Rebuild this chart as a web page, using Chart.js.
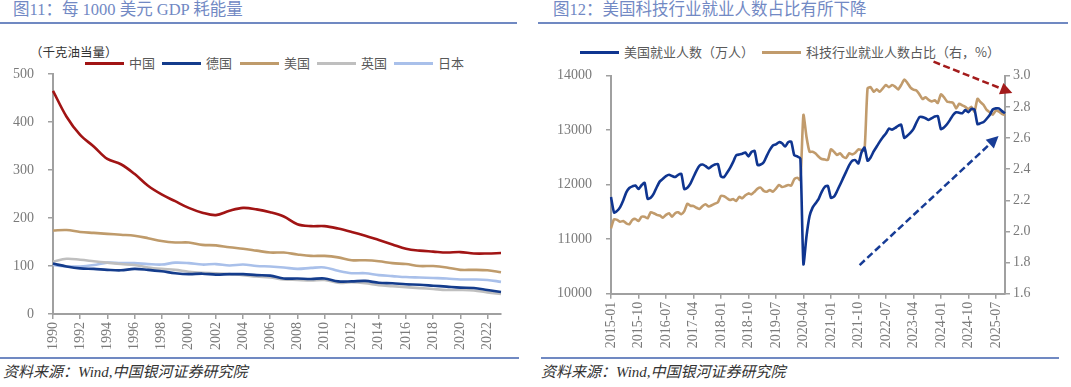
<!DOCTYPE html>
<html>
<head>
<meta charset="utf-8">
<script src="https://cdn.jsdelivr.net/npm/chart.js@4.4.1/dist/chart.umd.min.js"></script>
<style>
html,body{margin:0;padding:0;background:#fff;}
body{width:1071px;height:387px;position:relative;overflow:hidden;font-family:"Liberation Serif","Noto Sans CJK SC",serif;}
.title{position:absolute;top:0;font-size:16.5px;color:#7289c4;white-space:nowrap;line-height:19px;}
.rule{position:absolute;height:2px;background:#7089c2;}
.src{position:absolute;top:363px;font-size:15px;font-style:italic;color:#333;white-space:nowrap;line-height:18px;}
.unit{position:absolute;left:30px;top:44px;font-family:"Noto Sans CJK SC",sans-serif;font-size:12.5px;color:#333;white-space:nowrap;line-height:16px;}
.lgi{position:absolute;font-family:"Noto Sans CJK SC",sans-serif;font-size:13px;color:#595959;white-space:nowrap;line-height:16px;}
.lgi i{display:inline-block;width:39px;height:3px;vertical-align:middle;margin-right:5px;position:relative;top:-1px;}
canvas{position:absolute;}
</style>
</head>
<body>
<div class="title" style="left:13px;">图11：每 1000 美元 GDP 耗能量</div>
<div class="rule" style="left:0;top:22px;width:517px;"></div>
<div class="title" style="left:553px;">图12：美国科技行业就业人数占比有所下降</div>
<div class="rule" style="left:538px;top:22px;width:530px;"></div>
<div class="unit">（千克油当量）</div>
<div id="legL"></div>
<div id="legR"></div>
<canvas id="cL" width="520" height="325" style="left:0;top:30px;"></canvas>
<canvas id="cR" width="531" height="325" style="left:540px;top:30px;"></canvas>
<div class="rule" style="left:0;top:357px;width:519px;"></div>
<div class="rule" style="left:541px;top:357px;width:518px;"></div>
<div class="src" style="left:3px;">资料来源：Wind,中国银河证券研究院</div>
<div class="src" style="left:541px;">资料来源：Wind,中国银河证券研究院</div>
<script>
// ---------- Left chart data ----------
const years = ['1990','1991','1992','1993','1994','1995','1996','1997','1998','1999',
  '2000','2001','2002','2003','2004','2005','2006','2007','2008','2009',
  '2010','2011','2012','2013','2014','2015','2016','2017','2018','2019',
  '2020','2021','2022','2023'];
const leftNames = ['中国','德国','美国','英国','日本'];
const china   = [465,411,373,349,323,312,292,267,249,235,221,211,206,215,221,218,212,203,187,183,183,178,171,163,154,145,136,132,130,128,129,126,126,127];
const germany = [105,99,95,94,92,91,94,92,89,85,83,84,82,83,83,81,80,74,74,73,74,68,68,69,65,64,62,61,59,57,55,54,50,46];
const usa     = [174,175,171,169,167,165,163,158,152,149,149,144,143,139,136,132,128,128,124,121,121,118,112,112,110,106,104,100,100,97,92,92,91,87];
const uk      = [109,115,113,110,107,104,102,97,94,92,88,86,85,83,81,78,76,72,71,70,71,65,66,64,60,58,56,54,52,50,50,49,45,42];
const japan   = [102,99,99,102,107,106,106,104,103,107,106,103,104,101,103,100,99,97,94,96,97,90,85,85,81,79,77,76,75,74,72,72,71,67];
const leftTicksY = [0,100,200,300,400,500];

// ---------- Right chart data ----------
const months = [
 '2015-01','2015-02','2015-03','2015-04','2015-05','2015-06','2015-07','2015-08','2015-09','2015-10','2015-11','2015-12',
 '2016-01','2016-02','2016-03','2016-04','2016-05','2016-06','2016-07','2016-08','2016-09','2016-10','2016-11','2016-12',
 '2017-01','2017-02','2017-03','2017-04','2017-05','2017-06','2017-07','2017-08','2017-09','2017-10','2017-11','2017-12',
 '2018-01','2018-02','2018-03','2018-04','2018-05','2018-06','2018-07','2018-08','2018-09','2018-10','2018-11','2018-12',
 '2019-01','2019-02','2019-03','2019-04','2019-05','2019-06','2019-07','2019-08','2019-09','2019-10','2019-11','2019-12',
 '2020-01','2020-02','2020-03','2020-04','2020-05','2020-06','2020-07','2020-08','2020-09','2020-10','2020-11','2020-12',
 '2021-01','2021-02','2021-03','2021-04','2021-05','2021-06','2021-07','2021-08','2021-09','2021-10','2021-11','2021-12',
 '2022-01','2022-02','2022-03','2022-04','2022-05','2022-06','2022-07','2022-08','2022-09','2022-10','2022-11','2022-12',
 '2023-01','2023-02','2023-03','2023-04','2023-05','2023-06','2023-07','2023-08','2023-09','2023-10','2023-11','2023-12',
 '2024-01','2024-02','2024-03','2024-04','2024-05','2024-06','2024-07','2024-08','2024-09','2024-10','2024-11','2024-12',
 '2025-01','2025-02','2025-03','2025-04','2025-05','2025-06','2025-07','2025-08','2025-09','2025-10'];
const rightNames = ['美国就业人数（万人）','科技行业就业人数占比（右，%）'];
const employment = [
 11776,11490,11520,11590,11710,11860,11940,11970,11985,11920,11990,12035,
 11740,11760,11836,11958,12061,12109,12158,12182,12158,12140,12182,12200,
 11920,11945,12018,12140,12260,12350,12370,12340,12300,12340,12370,12380,
 12150,12140,12220,12310,12420,12540,12555,12570,12590,12520,12600,12620,
 12360,12370,12410,12530,12640,12720,12740,12780,12760,12700,12780,12790,
 12540,12520,12480,10540,11050,11420,11580,11660,11740,11870,11960,11980,
 11760,11780,11880,12000,12120,12240,12360,12440,12450,12390,12590,12680,
 12440,12500,12610,12700,12790,12870,12940,13030,13010,13040,13080,13100,
 12860,12900,12950,13020,13140,13240,13240,13220,13190,13220,13250,13260,
 13020,13050,13110,13190,13280,13330,13320,13310,13370,13330,13390,13380,
 13110,13130,13150,13210,13280,13380,13400,13400,13350,13310];
const techShare = [
 2.02,2.078,2.074,2.062,2.067,2.052,2.046,2.074,2.08,2.067,2.094,2.094,
 2.084,2.123,2.117,2.106,2.102,2.088,2.106,2.117,2.094,2.117,2.123,2.11,
 2.13,2.178,2.165,2.163,2.152,2.144,2.163,2.174,2.16,2.168,2.178,2.187,
 2.228,2.226,2.213,2.202,2.208,2.195,2.222,2.213,2.232,2.244,2.238,2.255,
 2.275,2.281,2.26,2.255,2.266,2.255,2.275,2.298,2.285,2.29,2.298,2.294,
 2.335,2.345,2.33,2.748,2.608,2.512,2.512,2.5,2.48,2.465,2.462,2.459,
 2.527,2.512,2.491,2.502,2.48,2.473,2.502,2.495,2.505,2.527,2.523,2.52,
 2.919,2.926,2.897,2.912,2.897,2.919,2.94,2.926,2.94,2.93,2.912,2.94,
 2.975,2.955,2.925,2.91,2.905,2.88,2.85,2.862,2.845,2.835,2.842,2.825,
 2.88,2.862,2.835,2.83,2.826,2.79,2.82,2.81,2.8,2.785,2.8,2.77,
 2.852,2.83,2.812,2.78,2.765,2.75,2.776,2.77,2.755,2.748];
// trend-arrow annotations, in data units (x: month index, y: right-axis %)
const trendArrows = [
 {color:'#A31B1B', x0:105.6, y0:3.09, x1:131.4, y1:2.889},
 {color:'#173C96', x0:81.4, y0:1.784, x1:126.9, y1:2.613}
];

// ---------- styles ----------
const leftColors = ['#A11414','#143C8C','#BF9B6B','#BFBFBF','#A9C0EA'];
const rightColors = ['#0F3590','#C19B6C'];
const axisGray = '#a0a0a0';
const tickColor = '#7a7a7a';

Chart.defaults.font.family = "'Liberation Serif', serif";
Chart.defaults.font.size = 14;

function legendHTML(id, names, colors, lefts, top){
  const el = document.getElementById(id);
  names.forEach((n,i)=>{
    const d = document.createElement('div');
    d.className='lgi';
    d.style.left = lefts[i]+'px';
    d.style.top = top+'px';
    d.innerHTML = '<i style="background:'+colors[i]+'"></i>'+n;
    el.appendChild(d);
  });
}
legendHTML('legL', leftNames, leftColors, [85,162,240,317,394], 55);
legendHTML('legR', rightNames, rightColors, [580,762], 44);

const gridOpt = {drawOnChartArea:false, drawTicks:true, tickLength:5, color:axisGray, lineWidth:1.5};
const borderOpt = {color:axisGray, width:2};

const leftSeries = [china, germany, usa, uk, japan];
new Chart(document.getElementById('cL'), {
  type:'line',
  data:{
    labels: years,
    datasets: leftSeries.map((d,i)=>({label:leftNames[i], data:d, borderColor:leftColors[i], backgroundColor:leftColors[i],
      borderWidth:2.6, pointRadius:0, tension:0.35, fill:false}))
  },
  options:{
    responsive:false, animation:false,
    layout:{padding:{left:0,right:19,top:44,bottom:0}},
    plugins:{legend:{display:false}, tooltip:{enabled:false}},
    scales:{
      x:{
        grid:gridOpt, border:borderOpt,
        ticks:{autoSkip:false, maxRotation:90, minRotation:90, padding:3, color:tickColor,
          callback:function(v,i){ return i%2===0 ? this.getLabelForValue(v) : null; }},
        afterFit(s){ s.height = 41; }
      },
      y:{
        min:0, max:500,
        grid:gridOpt, border:borderOpt,
        afterBuildTicks(s){ s.ticks = leftTicksY.map(v=>({value:v})); },
        ticks:{padding:14, color:tickColor, callback:v=>String(v)},
        afterFit(s){ s.width = 53; }
      }
    }
  }
});

const arrowPlugin = {
  id:'trendArrows',
  afterDatasetsDraw(chart){
    const {ctx, scales} = chart;
    const xs = scales.x, ys = scales.y2;
    trendArrows.forEach(a=>{
      const px0 = xs.getPixelForValue(a.x0), py0 = ys.getPixelForValue(a.y0);
      const px1 = xs.getPixelForValue(a.x1), py1 = ys.getPixelForValue(a.y1);
      const ang = Math.atan2(py1-py0, px1-px0), head = 12, hw = 6;
      const bx = px1 - head*Math.cos(ang), by = py1 - head*Math.sin(ang);
      ctx.save();
      ctx.strokeStyle = a.color; ctx.fillStyle = a.color; ctx.lineWidth = 2.5;
      ctx.setLineDash([7,3.5]);
      ctx.beginPath(); ctx.moveTo(px0,py0); ctx.lineTo(bx,by); ctx.stroke();
      ctx.setLineDash([]);
      ctx.beginPath(); ctx.moveTo(px1,py1);
      ctx.lineTo(bx + hw*Math.sin(ang), by - hw*Math.cos(ang));
      ctx.lineTo(bx - hw*Math.sin(ang), by + hw*Math.cos(ang));
      ctx.closePath(); ctx.fill();
      ctx.restore();
    });
  }
};

new Chart(document.getElementById('cR'), {
  type:'line',
  data:{
    labels: months,
    datasets:[
      {label:rightNames[0], data:employment, yAxisID:'y', borderColor:rightColors[0], backgroundColor:rightColors[0], borderWidth:2.6, pointRadius:0, tension:0.2},
      {label:rightNames[1], data:techShare, yAxisID:'y2', borderColor:rightColors[1], backgroundColor:rightColors[1], borderWidth:2.6, pointRadius:0, tension:0.2}
    ]
  },
  options:{
    responsive:false, animation:false,
    layout:{padding:{left:0,right:0,top:45.7,bottom:0}},
    plugins:{legend:{display:false}, tooltip:{enabled:false}},
    scales:{
      x:{
        grid:gridOpt, border:borderOpt,
        ticks:{autoSkip:false, maxRotation:90, minRotation:90, padding:3, color:tickColor,
          callback:function(v,i){ return i%9===0 ? this.getLabelForValue(v) : null; }},
        afterFit(s){ s.height = 61.3; }
      },
      y:{
        position:'left', min:10000, max:14000,
        grid:gridOpt, border:borderOpt,
        ticks:{stepSize:1000, padding:14, color:tickColor, callback:v=>String(v)},
        afterFit(s){ s.width = 71; }
      },
      y2:{
        position:'right', min:1.6, max:3.0,
        grid:gridOpt, border:borderOpt,
        ticks:{stepSize:0.2, padding:3, color:tickColor, callback:v=>Number(v).toFixed(1)},
        afterFit(s){ s.width = 66; }
      }
    }
  },
  plugins:[arrowPlugin]
});
</script>
</body>
</html>
